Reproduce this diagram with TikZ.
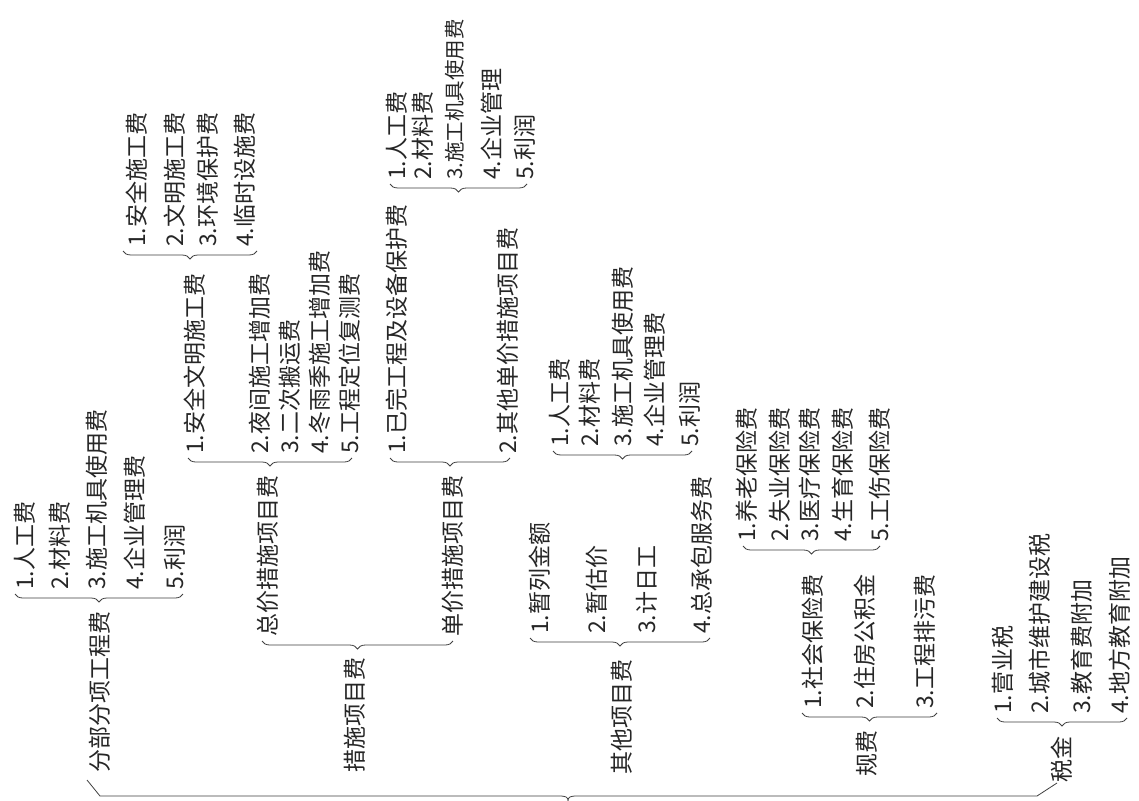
\documentclass[tikz,border=0pt]{standalone}
\usepackage{fontspec}
\newfontfamily\cjk{Noto Sans CJK SC}
\usetikzlibrary{calc, decorations.pathreplacing}

\tikzset{
    cost/.style = {rotate = 90, anchor = west, inner sep = 0pt, text = black!85,
        font = \cjk\fontsize{23}{23}\selectfont},
    small cost/.style = {cost, font = \cjk\fontsize{20.5}{20.5}\selectfont},
    sumbrace/.style = {draw = black!75, line width = 0.8pt, decorate,
        decoration = {brace, mirror, amplitude = 8pt}},
    sumline/.style = {draw = black!75, line width = 0.8pt},
}

\begin{document}
\begin{tikzpicture}[x = 1pt, y = -1pt]
        \fill[white] (0, 0) rectangle (1139, 800);
        \useasboundingbox (0, 0) rectangle (1139, 800);

        \node [cost] (fbfx) at (100, 773) {分部分项工程费};
        \node [cost] (csxm) at (355, 773) {措施项目费};
        \node [cost] (qtxm) at (622, 775) {其他项目费};
        \node [cost] (gf) at (867, 777) {规费};
        \node [cost] (sj) at (1062, 783) {税金};

        \node [cost] (a1) at (25, 590) {1.人工费};
        \node [cost] (a2) at (60, 590) {2.材料费};
        \node [cost] (a3) at (97, 590) {3.施工机具使用费};
        \node [cost] (a4) at (135, 590) {4.企业管理费};
        \node [cost] (a5) at (175, 590) {5.利润};

        \node [cost] (zj) at (268, 637) {总价措施项目费};
        \node [cost] (dj) at (453, 637) {单价措施项目费};

        \node [cost] (c1) at (195, 454) {1.安全文明施工费};
        \node [cost] (c2) at (260, 454) {2.夜间施工增加费};
        \node [cost] (c3) at (290, 454) {3.二次搬运费};
        \node [cost] (c4) at (320, 454) {4.冬雨季施工增加费};
        \node [cost] (c5) at (350, 454) {5.工程定位复测费};

        \node [cost] (d1) at (137, 247) {1.安全施工费};
        \node [cost] (d2) at (175, 247) {2.文明施工费};
        \node [cost] (d3) at (208, 247) {3.环境保护费};
        \node [cost] (d4) at (245, 247) {4.临时设施费};

        \node [cost] (e1) at (397, 454) {1.已完工程及设备保护费};
        \node [cost] (e2) at (508, 454) {2.其他单价措施项目费};

        \node [cost] (f1) at (397, 180) {1.人工费};
        \node [cost] (f2) at (423, 180) {2.材料费};
        \node [small cost] (f3) at (455, 180) {3.施工机具使用费};
        \node [cost] (f4) at (492, 180) {4.企业管理};
        \node [cost] (f5) at (525, 180) {5.利润};

        \node [cost] (g1) at (560, 447) {1.人工费};
        \node [cost] (g2) at (590, 447) {2.材料费};
        \node [cost] (g3) at (623, 447) {3.施工机具使用费};
        \node [cost] (g4) at (655, 447) {4.企业管理费};
        \node [cost] (g5) at (690, 447) {5.利润};

        \node [cost] (h1) at (540, 634) {1.暂列金额};
        \node [cost] (h2) at (597, 634) {2.暂估价};
        \node [cost] (h3) at (647, 634) {3.计日工};
        \node [cost] (h4) at (702, 634) {4.总承包服务费};

        \node [cost] (i1) at (813, 709) {1.社会保险费};
        \node [cost] (i2) at (865, 709) {2.住房公积金};
        \node [cost] (i3) at (925, 709) {3.工程排污费};

        \node [cost] (j1) at (747, 542) {1.养老保险费};
        \node [cost] (j2) at (780, 542) {2.失业保险费};
        \node [cost] (j3) at (810, 542) {3.医疗保险费};
        \node [cost] (j4) at (843, 542) {4.生育保险费};
        \node [cost] (j5) at (880, 542) {5.工伤保险费};

        \node [cost] (k1) at (1003, 714) {1.营业税};
        \node [cost] (k2) at (1040, 714) {2.城市维护建设税};
        \node [cost] (k3) at (1082, 714) {3.教育费附加};
        \node [cost] (k4) at (1120, 714) {4.地方教育附加};

        \draw [sumbrace] ($(a1.west) + (-10, 4)$) -- ($(a5.west) + (8, 4)$);
        \draw [sumbrace] ($(zj.west) + (-6, 4)$) -- ($(dj.west) + (0, 4)$);
        \draw [sumbrace] ($(c1.west) + (-7, 4)$) -- ($(c5.west) + (2, 4)$);
        \draw [sumbrace] ($(d1.west) + (-14, 4)$) -- ($(d4.west) + (12, 4)$);
        \draw [sumbrace] ($(e1.west) + (-7, 4)$) -- ($(e2.west) + (2, 4)$);
        \draw [sumbrace] ($(f1.west) + (-7, 4)$) -- ($(f5.west) + (2, 4)$);
        \draw [sumbrace] ($(g1.west) + (-7, 4)$) -- ($(g5.west) + (2, 4)$);
        \draw [sumbrace] ($(h1.west) + (-10, 4)$) -- ($(h4.west) + (8, 4)$);
        \draw [sumbrace] ($(i1.west) + (-11, 4)$) -- ($(i3.west) + (12, 4)$);
        \draw [sumbrace] ($(j1.west) + (-4, 4)$) -- ($(j5.west) + (0, 4)$);
        \draw [sumbrace] ($(k1.west) + (-6, 4)$) -- ($(k4.west) + (7, 4)$);

        \coordinate (total) at (568, 796);
        \draw [sumline]
            ($(fbfx.west) + (-13, 7)$) -- ($(fbfx.west) + (0, 23)$)
            -- ($(total) + (-9, 0)$)
            .. controls ($(total) + (-2, 0)$) and ($(total) + (0, 1)$) .. ($(total) + (0, 5)$)
            .. controls ($(total) + (0, 1)$) and ($(total) + (2, 0)$) .. ($(total) + (9, 0)$)
            -- ($(sj.west) + (-25, 13)$) -- ($(sj.west) + (-5, 0)$)
        ;
    \end{tikzpicture}
\end{document}
